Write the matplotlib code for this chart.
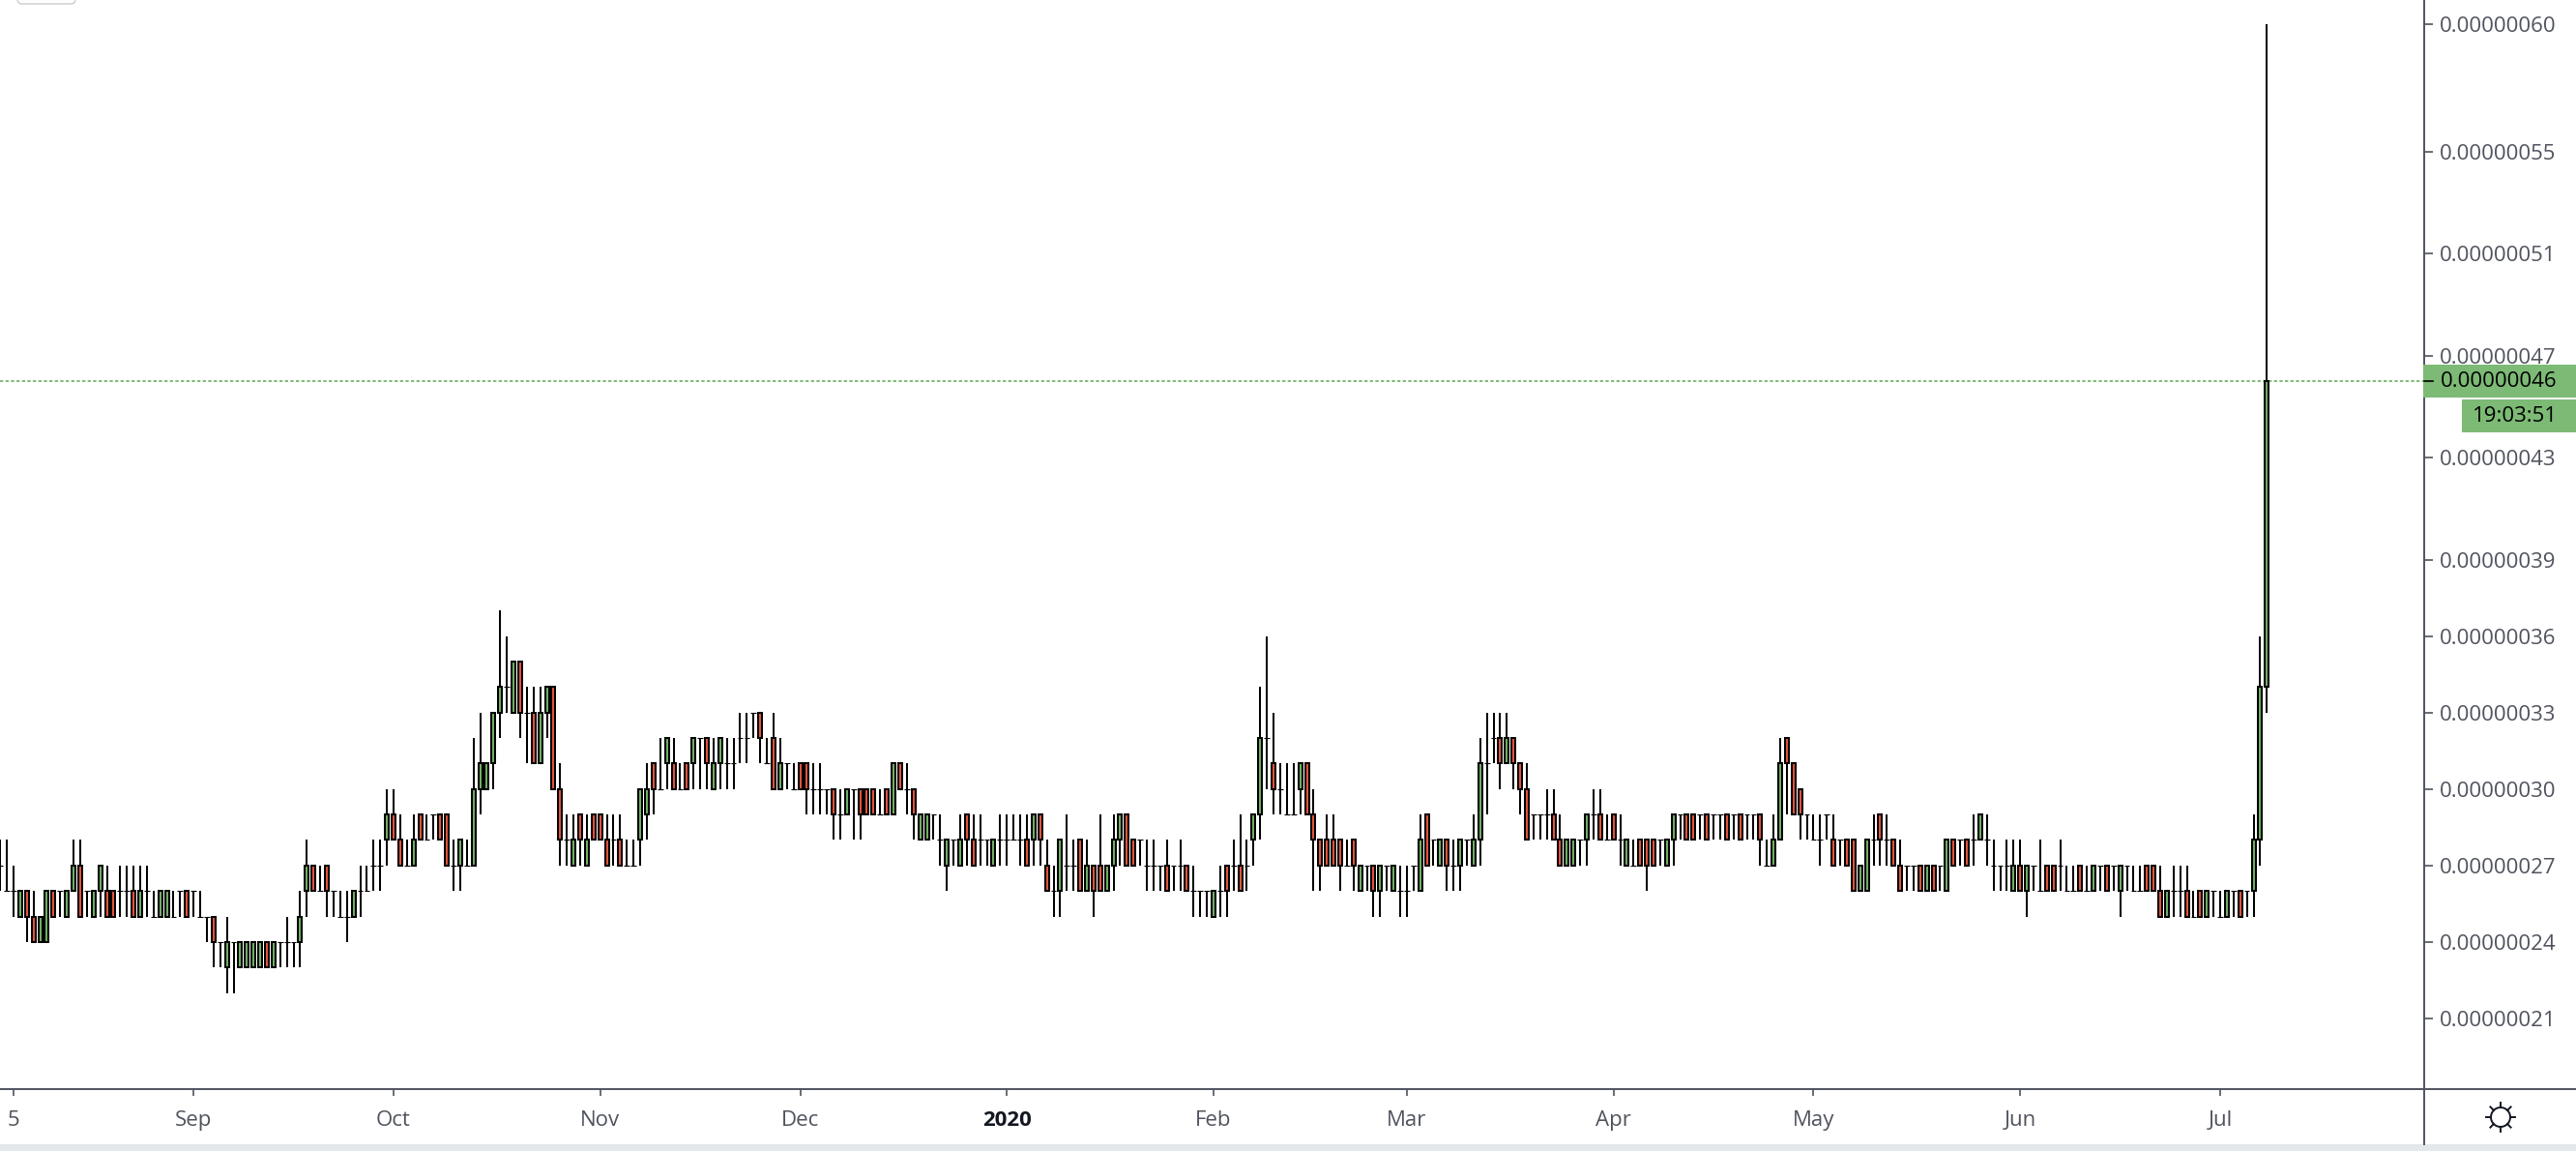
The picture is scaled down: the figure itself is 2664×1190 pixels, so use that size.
import matplotlib
matplotlib.use("Agg")
import numpy as np
import pandas as pd
import matplotlib.pyplot as plt
from matplotlib.patches import Circle, FancyBboxPatch, Rectangle

plt.rcParams['font.family'] = ['Open Sans', 'DejaVu Sans']

# daily candles in satoshi (1e-8), one row of ten per line
opens = [
    27, 26, 26, 25, 26, 25, 24, 24, 26, 26,
    25, 26, 27, 26, 25, 26, 26, 26, 26, 26,
    26, 25, 26, 25, 25, 25, 25, 26, 26, 26,
    25, 25, 25, 24, 23, 24, 23, 23, 23, 23,
    24, 23, 24, 24, 24, 24, 26, 27, 26, 27,
    26, 25, 25, 25, 26, 26, 27, 27, 28, 29,
    28, 27, 27, 29, 28, 29, 29, 29, 27, 27,
    27, 27, 30, 30, 31, 33, 34, 33, 35, 33,
    33, 31, 33, 34, 30, 28, 27, 29, 27, 29,
    29, 28, 28, 28, 27, 27, 28, 29, 31, 30,
    31, 31, 30, 31, 31, 32, 32, 30, 31, 31,
    31, 32, 32, 33, 33, 31, 32, 30, 31, 30,
    31, 31, 30, 30, 30, 30, 29, 29, 30, 30,
    30, 30, 29, 30, 29, 31, 30, 30, 28, 28,
    29, 28, 27, 28, 27, 29, 28, 28, 28, 27,
    28, 28, 28, 28, 28, 28, 29, 27, 26, 26,
    27, 27, 28, 26, 27, 27, 26, 27, 28, 29,
    28, 28, 27, 27, 27, 27, 27, 27, 27, 26,
    26, 26, 25, 26, 27, 27, 27, 27, 28, 29,
    32, 31, 30, 29, 29, 30, 31, 29, 28, 28,
    28, 28, 27, 28, 26, 27, 27, 26, 27, 26,
    26, 26, 27, 26, 29, 28, 27, 28, 27, 27,
    28, 27, 28, 31, 32, 32, 31, 32, 31, 30,
    29, 29, 29, 29, 28, 27, 27, 28, 28, 29,
    29, 28, 29, 28, 27, 27, 28, 28, 28, 28,
    27, 28, 29, 29, 29, 29, 29, 29, 29, 29,
    29, 29, 29, 29, 29, 27, 27, 28, 32, 31,
    30, 29, 28, 28, 29, 28, 28, 28, 28, 26,
    26, 28, 29, 28, 28, 27, 27, 27, 27, 26,
    27, 27, 26, 28, 28, 28, 28, 28, 28, 27,
    27, 27, 26, 27, 26, 27, 26, 27, 27, 27,
    26, 26, 27, 26, 26, 27, 27, 27, 26, 27,
    26, 26, 27, 27, 26, 25, 26, 26, 26, 25,
    26, 25, 26, 25, 25, 26, 26, 26, 26, 28,
    34,
]
closes = [
    27, 26, 26, 26, 25, 24, 25, 26, 25, 26,
    26, 27, 25, 26, 26, 27, 25, 25, 26, 26,
    25, 26, 26, 25, 26, 26, 25, 26, 25, 26,
    25, 25, 24, 24, 24, 24, 24, 24, 24, 24,
    23, 24, 24, 24, 24, 25, 27, 26, 26, 26,
    26, 25, 25, 26, 26, 26, 27, 27, 29, 28,
    27, 27, 28, 28, 28, 29, 28, 27, 27, 28,
    27, 30, 31, 31, 33, 34, 34, 35, 33, 33,
    31, 33, 34, 30, 28, 28, 28, 28, 28, 28,
    28, 27, 28, 27, 27, 27, 30, 30, 30, 30,
    32, 30, 30, 30, 32, 32, 31, 31, 32, 31,
    31, 32, 32, 33, 32, 31, 30, 31, 31, 30,
    30, 30, 30, 30, 30, 29, 29, 30, 30, 29,
    29, 29, 29, 29, 31, 30, 30, 29, 29, 29,
    29, 28, 28, 28, 28, 28, 27, 28, 28, 28,
    28, 28, 28, 28, 27, 29, 28, 26, 26, 28,
    27, 27, 26, 27, 26, 26, 27, 28, 29, 27,
    27, 28, 27, 27, 27, 26, 27, 27, 26, 26,
    26, 26, 26, 26, 26, 27, 26, 27, 29, 32,
    32, 30, 30, 29, 29, 31, 29, 28, 27, 27,
    27, 27, 27, 27, 27, 27, 26, 27, 27, 27,
    26, 26, 27, 28, 27, 28, 28, 27, 27, 28,
    28, 28, 31, 31, 32, 31, 32, 31, 30, 28,
    29, 29, 29, 28, 27, 28, 28, 28, 29, 29,
    28, 28, 28, 28, 28, 27, 27, 27, 27, 28,
    28, 29, 29, 28, 28, 29, 28, 29, 29, 28,
    29, 28, 29, 29, 28, 27, 28, 31, 31, 29,
    29, 29, 28, 28, 29, 27, 28, 27, 26, 27,
    28, 28, 28, 28, 27, 26, 27, 27, 26, 27,
    26, 27, 28, 27, 28, 27, 28, 29, 28, 27,
    27, 27, 27, 26, 27, 27, 26, 26, 26, 27,
    26, 26, 26, 26, 27, 27, 26, 27, 27, 27,
    26, 26, 26, 26, 25, 26, 26, 26, 25, 25,
    25, 26, 26, 25, 26, 26, 25, 26, 28, 34,
    46,
]
highs = [
    28, 28, 27, 26, 26, 26, 25, 26, 26, 26,
    26, 28, 28, 26, 26, 27, 27, 26, 27, 27,
    27, 27, 27, 26, 26, 26, 26, 26, 26, 26,
    26, 25, 25, 24, 25, 24, 24, 24, 24, 24,
    24, 24, 24, 25, 24, 26, 28, 27, 27, 27,
    26, 26, 26, 26, 27, 27, 28, 28, 30, 30,
    29, 28, 29, 29, 29, 29, 29, 29, 28, 28,
    28, 32, 33, 31, 33, 37, 36, 35, 35, 34,
    34, 34, 34, 34, 31, 29, 29, 29, 29, 29,
    29, 29, 29, 29, 28, 28, 30, 31, 31, 32,
    32, 32, 31, 31, 32, 32, 32, 32, 32, 32,
    32, 33, 33, 33, 33, 32, 33, 32, 31, 31,
    31, 31, 31, 31, 30, 30, 30, 30, 30, 30,
    30, 30, 30, 30, 31, 31, 31, 30, 29, 29,
    29, 29, 28, 28, 29, 29, 29, 29, 28, 28,
    29, 29, 29, 29, 29, 29, 29, 28, 27, 28,
    29, 28, 28, 28, 27, 29, 27, 29, 29, 29,
    28, 28, 28, 28, 27, 28, 27, 28, 27, 27,
    26, 26, 26, 27, 27, 28, 29, 28, 29, 34,
    36, 33, 31, 31, 31, 31, 31, 30, 28, 29,
    29, 28, 28, 28, 27, 27, 27, 27, 27, 27,
    27, 27, 27, 29, 29, 28, 28, 28, 28, 28,
    28, 29, 32, 33, 33, 33, 33, 32, 31, 31,
    29, 29, 30, 30, 29, 28, 28, 28, 29, 30,
    30, 29, 29, 29, 28, 28, 28, 28, 28, 28,
    28, 29, 29, 29, 29, 29, 29, 29, 29, 29,
    29, 29, 29, 29, 29, 28, 29, 32, 32, 31,
    30, 29, 29, 29, 29, 29, 28, 28, 28, 27,
    28, 29, 29, 29, 28, 28, 27, 27, 27, 27,
    27, 27, 28, 28, 28, 28, 29, 29, 29, 28,
    27, 28, 28, 28, 27, 27, 28, 27, 27, 28,
    27, 27, 27, 27, 27, 27, 27, 27, 27, 27,
    27, 27, 27, 27, 27, 26, 27, 27, 27, 26,
    26, 26, 26, 26, 26, 26, 26, 26, 29, 36,
    60,
]
lows = [
    26, 26, 25, 25, 24, 24, 24, 24, 25, 25,
    25, 26, 25, 25, 25, 25, 25, 25, 25, 25,
    25, 25, 25, 25, 25, 25, 25, 25, 25, 25,
    25, 24, 23, 23, 22, 22, 23, 23, 23, 23,
    23, 23, 23, 23, 23, 23, 25, 26, 26, 25,
    25, 25, 24, 25, 25, 26, 26, 26, 27, 28,
    27, 27, 27, 28, 28, 28, 28, 27, 26, 26,
    27, 27, 29, 30, 30, 32, 33, 33, 32, 31,
    31, 31, 32, 30, 27, 27, 27, 27, 27, 28,
    28, 27, 27, 27, 27, 27, 27, 28, 29, 30,
    30, 30, 30, 30, 30, 30, 30, 30, 30, 30,
    30, 31, 31, 32, 31, 31, 30, 30, 30, 30,
    30, 29, 29, 29, 29, 28, 28, 29, 28, 28,
    29, 29, 29, 29, 29, 30, 29, 28, 28, 28,
    28, 27, 26, 27, 27, 27, 27, 27, 27, 27,
    27, 27, 28, 27, 27, 27, 27, 26, 25, 25,
    26, 26, 26, 26, 25, 26, 26, 26, 27, 27,
    27, 27, 26, 26, 26, 26, 26, 26, 26, 25,
    25, 25, 25, 25, 25, 26, 26, 26, 27, 28,
    30, 29, 29, 29, 29, 29, 29, 26, 26, 27,
    27, 26, 27, 26, 26, 26, 25, 25, 26, 26,
    25, 25, 26, 26, 27, 27, 27, 26, 26, 26,
    27, 27, 27, 29, 31, 30, 31, 30, 29, 28,
    28, 28, 28, 28, 27, 27, 27, 27, 27, 28,
    28, 28, 28, 27, 27, 27, 27, 26, 27, 27,
    27, 27, 28, 28, 28, 28, 28, 28, 28, 28,
    28, 28, 28, 28, 27, 27, 27, 28, 29, 29,
    28, 28, 28, 27, 28, 27, 27, 27, 26, 26,
    26, 27, 27, 27, 27, 26, 26, 26, 26, 26,
    26, 26, 26, 27, 27, 27, 27, 28, 27, 26,
    26, 26, 26, 26, 25, 26, 26, 26, 26, 26,
    26, 26, 26, 26, 26, 26, 26, 26, 25, 26,
    26, 26, 26, 26, 25, 25, 25, 25, 25, 25,
    25, 25, 25, 25, 25, 25, 25, 25, 25, 27,
    33,
]

dates = pd.date_range("2019-08-03", periods=len(opens))

month_ticks = ["2019-08-05", "2019-09-01", "2019-10-01", "2019-11-01", "2019-12-01", "2020-01-01",
               "2020-02-01", "2020-03-01", "2020-04-01", "2020-05-01", "2020-06-01", "2020-07-01"]
month_labels = ["5", "Sep", "Oct", "Nov", "Dec", "2020", "Feb", "Mar", "Apr", "May", "Jun", "Jul"]
price_ticks = [60, 55, 51, 47, 43, 39, 36, 33, 30, 27, 24, 21]
last_price = 46
countdown = "19:03:51"

GREEN = "#6fae63"
RED = "#e2533b"
LABEL_GREEN = "#7cba75"
AXIS = "#50535e"

o = np.array(opens)
c = np.array(closes)
h = np.array(highs)
l = np.array(lows)
up = c > o
down = c < o
doji = c == o

W, H = 2664, 1190
fig = plt.figure(figsize=(W / 100, H / 100), dpi=100, facecolor="white")
ax = fig.add_axes([0, (H - 1126) / H, 2507 / W, 1126 / H])

ax.vlines(dates, l, h, color="black", lw=1.44, zorder=2)
ax.bar(dates[up], (c - o)[up], bottom=o[up], width=0.58, color=GREEN, edgecolor="black", lw=1.44, zorder=3)
ax.bar(dates[down], (o - c)[down], bottom=c[down], width=0.58, color=RED, edgecolor="black", lw=1.44, zorder=3)
half = pd.Timedelta(hours=10)
ax.hlines(o[doji], dates[doji] - half, dates[doji] + half, color="black", lw=0.8, zorder=2)

ax.axhline(last_price, color="#6aae62", lw=1.2, ls=(0, (2.0, 1.4)), zorder=1)

# 6.895 px per day, first candle sits at the left edge
day0 = dates[0]
ax.set_xlim(day0 - pd.Timedelta(days=0.03), day0 + pd.Timedelta(days=363.6))
ax.set_ylim(18.23, 60.95)

ax.set_xticks(pd.to_datetime(month_ticks))
ax.set_xticklabels(month_labels)
ax.tick_params(axis="x", length=5, width=1.2, color=AXIS, labelcolor=AXIS, labelsize=16, pad=11)
ax.get_xticklabels()[5].set_fontweight("bold")
ax.get_xticklabels()[5].set_color("#131722")

ax.yaxis.tick_right()
ax.set_yticks(price_ticks)
ax.set_yticklabels([f"{p * 1e-8:.8f}" for p in price_ticks])
ax.tick_params(axis="y", length=6.5, width=1.2, color=AXIS, labelcolor=AXIS, labelsize=16, pad=5)

for side in ("top", "left"):
    ax.spines[side].set_visible(False)
for side in ("right", "bottom"):
    ax.spines[side].set_color(AXIS)
    ax.spines[side].set_linewidth(1.4)

# overlay in pixel coordinates for the chart furniture
ov = fig.add_axes([0, 0, 1, 1], facecolor="none")
ov.set_xlim(0, W)
ov.set_ylim(H, 0)
ov.axis("off")
ov.add_patch(Rectangle((0, 1183), W, 7, color="#e3e8ea", lw=0))
ov.plot([2507, 2507], [1126, 1183], color=AXIS, lw=1.4)
ov.plot([2507, W], [1126, 1126], color=AXIS, lw=1.4)
ov.add_patch(FancyBboxPatch((18, -20), 60, 24, boxstyle="round,pad=0,rounding_size=5",
                            fc="white", ec="#c9cbd1", lw=1))

y46 = 1053 - (last_price - 21) * 26.36
ov.add_patch(Rectangle((2506, 377), W - 2506, 34, color=LABEL_GREEN, lw=0))
ov.add_patch(Rectangle((2546, 413), W - 2546, 34, color=LABEL_GREEN, lw=0))
ov.plot([2507, 2516], [y46, y46], color="black", lw=1.2)
ov.text(2524, y46, f"{last_price * 1e-8:.8f}", color="black", fontsize=16, va="center", ha="left")
ov.text(2645, 431, countdown, color="black", fontsize=16, va="center", ha="right")

# sun icon
sx, sy = 2586, 1155
ov.add_patch(Circle((sx, sy), 10, fc="none", ec="#131722", lw=1.4))
for a in [0, 90, 180, 270, 45, 135, 225, 315]:
    t = np.radians(a)
    ov.plot([sx + 10 * np.cos(t), sx + 15 * np.cos(t)], [sy + 10 * np.sin(t), sy + 15 * np.sin(t)],
            color="#131722", lw=1.4)

fig.savefig("out.png", dpi=100)
